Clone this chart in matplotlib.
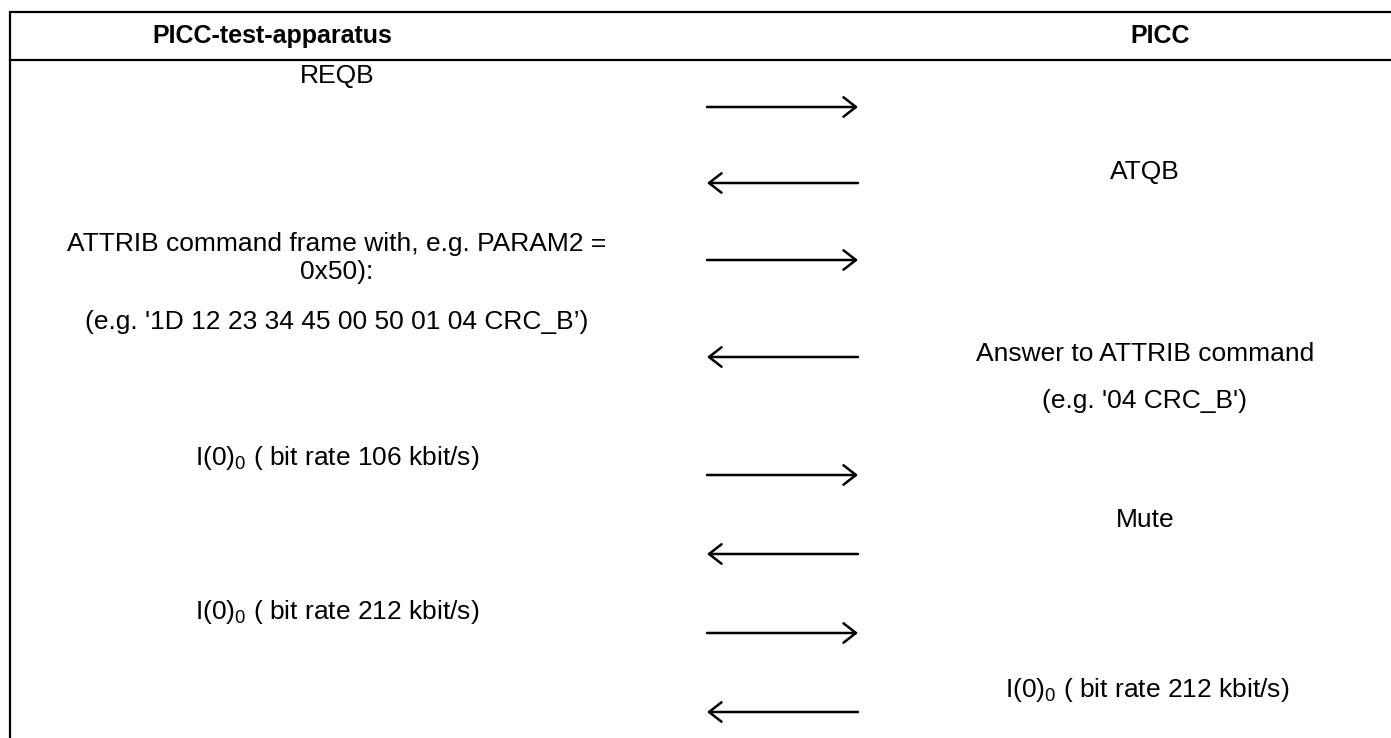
import matplotlib
matplotlib.use("Agg")
from matplotlib import pyplot as plt

plt.rcParams["font.family"] = ["Liberation Sans", "DejaVu Sans"]
plt.rcParams["mathtext.fontset"] = "custom"
plt.rcParams["mathtext.rm"] = "Liberation Sans"
plt.rcParams["mathtext.it"] = "Liberation Sans"

headers = ["PICC-test-apparatus", "PICC"]
header_x = [272, 1160]

left_texts = [
    "REQB",
    "ATTRIB command frame with, e.g. PARAM2 =\n0x50):",
    "(e.g. '1D 12 23 34 45 00 50 01 04 CRC_B’)",
    r"I(0)$_\mathrm{0}$ ( bit rate 106 kbit/s)",
    r"I(0)$_\mathrm{0}$ ( bit rate 212 kbit/s)",
]
left_x = [337, 337, 337, 337, 337]
left_y = [76, 258, 322, 458, 612]

right_texts = [
    "ATQB",
    "Answer to ATTRIB command",
    "(e.g. '04 CRC_B')",
    "Mute",
    r"I(0)$_\mathrm{0}$ ( bit rate 212 kbit/s)",
]
right_x = [1145, 1145, 1145, 1145, 1147]
right_y = [172, 354, 401, 520, 690]

# +1 = towards PICC, -1 = towards test apparatus
arrow_dir = [1, -1, 1, -1, 1, -1, 1, -1]
arrow_y = [107, 183, 260, 357, 475, 554, 633, 712]

W, H = 1391, 738
fig = plt.figure(figsize=(W / 100, H / 100), dpi=100)
ax = fig.add_axes([0, 0, 1, 1])
ax.set_xlim(0, W)
ax.set_ylim(H, 0)
ax.axis("off")

# table frame
ax.plot([10, 10], [12, H], color="black", lw=1.6, solid_capstyle="butt")
ax.plot([10, W], [12, 12], color="black", lw=1.6)
ax.plot([10, W], [60, 60], color="black", lw=1.6)

for t, x in zip(headers, header_x):
    ax.text(x, 36, t, ha="center", va="center", fontsize=18, fontweight="bold")

for t, x, y in zip(left_texts, left_x, left_y):
    ax.text(x, y, t, ha="center", va="center", fontsize=19, linespacing=1.2)

for t, x, y in zip(right_texts, right_x, right_y):
    ax.text(x, y, t, ha="center", va="center", fontsize=19)

for d, y in zip(arrow_dir, arrow_y):
    x0, x1 = (707, 858) if d > 0 else (858, 707)
    ax.annotate("", xy=(x1, y), xytext=(x0, y),
                arrowprops=dict(arrowstyle="->,head_length=0.9,head_width=0.7",
                                color="black", lw=1.8, shrinkA=0, shrinkB=0))

fig.savefig("out.png", dpi=100)
